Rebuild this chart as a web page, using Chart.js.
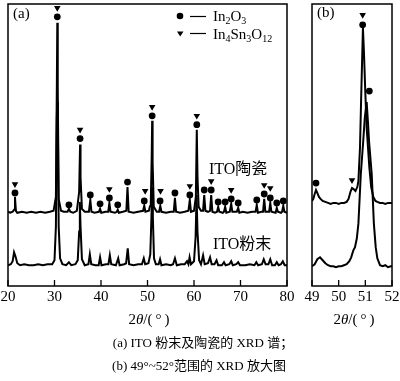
<!DOCTYPE html>
<html><head><meta charset="utf-8">
<script src="https://cdn.jsdelivr.net/npm/chart.js@4/dist/chart.umd.min.js"></script>
<style>
html,body{margin:0;padding:0;background:#fff;}
body{width:400px;height:381px;position:relative;overflow:hidden;font-family:"Liberation Serif","Noto Sans CJK SC",serif;color:#000;}
canvas{position:absolute;top:0;}
#ca{left:0;} #cb{left:300px;}
.t{position:absolute;white-space:nowrap;line-height:1;transform:translateX(-50%);}
</style></head><body>
<canvas id="ca" width="300" height="330"></canvas>
<canvas id="cb" width="100" height="330"></canvas>
<div class="t" style="left:149px;top:312px;font-size:15px;">2<i>θ</i>/(&thinsp;°&thinsp;)</div>
<div class="t" style="left:354px;top:312px;font-size:15px;">2<i>θ</i>/(&thinsp;°&thinsp;)</div>
<div class="t" style="left:203px;top:336px;font-size:13px;">(a) ITO 粉末及陶瓷的 XRD 谱；</div>
<div class="t" style="left:199px;top:359px;font-size:13px;">(b) 49°~52°范围的 XRD 放大图</div>
<script>
// ---- Data (2θ in degrees, intensity in arbitrary units) ----
const ticksA = [20, 30, 40, 50, 60, 70, 80];
const ticksB = [49, 50, 51, 52];

const ceramicA = [[20,75],[20.5,74],[21.0,75],[21.3,77],[21.5,90],[21.7,76],[22.0,74],[23,75],[24,74],[25,75],[26,74],[27,75],[28,74],[29,75],[29.8,76],[30.3,90],[30.5,200],[30.6,266],[30.7,200],[30.9,88],[31.4,76],[32,75],[32.8,75],[33.1,78],[33.4,75],[34,74],[34.8,76],[35.3,95],[35.5,143],[35.6,110],[35.9,78],[36.5,75],[37.4,75],[37.7,87],[37.95,75],[38.6,74],[39.55,75],[39.8,78],[40.05,74],[41,75],[41.55,75],[41.8,84],[42.05,75],[43,74],[43.4,75],[43.6,77],[43.85,74],[44.7,75],[45.45,76],[45.7,100],[45.95,75],[47,74],[48,75],[49.05,76],[49.3,81],[49.55,75],[50.3,76],[50.5,80],[50.7,82],[50.9,130],[51.0,167],[51.1,125],[51.35,80],[52.0,75],[52.5,75],[52.75,81],[53.0,75],[54,74],[55,75],[55.65,75],[55.9,89],[56.15,75],[57,74],[58,75],[58.8,76],[59.1,87],[59.35,75],[60.0,76],[60.4,90],[60.6,158],[60.75,110],[61.0,80],[61.5,76],[61.95,76],[62.2,92],[62.45,76],[63.0,75],[63.45,76],[63.7,92],[63.95,75],[64.5,74],[64.95,75],[65.2,80],[65.45,75],[66.2,74],[66.45,75],[66.7,80],[66.95,74],[67.7,75],[68.0,83],[68.25,75],[69.2,75],[69.5,79],[69.75,74],[70.5,75],[71.5,74],[72.5,75],[73.25,75],[73.5,82],[73.75,74],[74.5,75],[74.85,75],[75.1,88],[75.35,75],[76.15,75],[76.4,84],[76.65,75],[77.55,74],[77.8,79],[78.05,75],[78.7,74],[78.95,75],[79.2,81],[79.45,75],[80,74]];

const powderA = [[20,21],[20.6,22],[21.0,25],[21.3,34],[21.6,30],[22.0,23],[22.6,21],[23.5,22],[24.5,21],[25.5,21],[26.5,22],[27.5,21],[28.5,22],[29.5,22],[30.0,26],[30.3,60],[30.5,170],[30.6,186],[30.75,150],[30.9,60],[31.2,28],[31.7,22],[32.5,21],[33.1,24],[33.6,21],[34.5,22],[35.0,26],[35.3,55],[35.45,85],[35.6,60],[35.9,27],[36.5,21],[37.3,22],[37.6,32],[37.9,22],[38.8,21],[39.5,21],[39.8,29],[40.1,21],[41.1,22],[41.6,22],[41.9,31],[42.2,22],[43.2,21],[43.7,28],[44.0,21],[45.0,22],[45.4,23],[45.75,38],[46.05,22],[47,21],[48,22],[48.8,22],[49.2,28],[49.5,22],[50.2,23],[50.6,32],[50.85,70],[51.0,100],[51.15,70],[51.4,28],[51.8,22],[52.4,22],[52.7,27],[53.0,21],[54,22],[55,21],[55.5,22],[55.9,28],[56.3,21],[57.2,22],[58.0,22],[58.5,25],[58.8,22],[59.05,29],[59.35,22],[60.0,25],[60.35,50],[60.55,92],[60.75,55],[61.1,26],[61.5,22],[61.95,31],[62.3,22],[63.0,23],[63.45,29],[63.8,22],[64.4,22],[64.85,26],[65.2,21],[66.0,21],[66.45,24],[66.8,21],[67.6,22],[68.0,25],[68.35,21],[69.1,22],[69.5,24],[69.9,21],[71,21],[72,22],[73.0,21],[73.4,24],[73.8,21],[74.6,22],[75.0,27],[75.4,22],[76.0,22],[76.4,27],[76.8,21],[77.4,21],[77.8,24],[78.2,21],[78.7,22],[79.1,25],[79.5,21],[80,21]];

const in2o3A = [[21.5,94],[30.6,272],[33.1,82],[35.5,149],[37.7,92],[39.8,83],[41.8,89],[43.6,82],[45.7,105],[49.3,86],[51.0,172],[52.7,86],[55.9,94],[59.1,92],[60.6,163],[62.2,97],[63.7,97],[65.2,85],[66.7,85],[68.0,88],[69.5,84],[73.5,87],[75.1,93],[76.4,89],[77.8,84],[79.2,86]];
const in4sn3o12A = [[21.5,103],[30.6,281],[35.5,158],[41.8,98],[49.5,96],[51.0,181],[52.8,96],[59.1,101],[60.6,172],[63.7,106],[68.0,97],[75.1,102],[76.4,99]];

const ceramicB = [[49.0,86],[49.05,88],[49.1,93],[49.15,97],[49.2,94],[49.26,90],[49.32,88],[49.4,86],[49.5,85],[49.6,84],[49.7,83],[49.8,84],[49.9,84],[50.0,83],[50.1,84],[50.2,84],[50.3,85],[50.37,88],[50.44,95],[50.5,99],[50.56,98],[50.63,96],[50.7,100],[50.74,106],[50.8,140],[50.84,186],[50.91,261],[50.95,235],[51.0,195],[51.05,160],[51.1,140],[51.15,120],[51.22,100],[51.3,90],[51.38,86],[51.45,85],[51.55,84],[51.65,84],[51.75,83],[51.85,84],[51.95,84],[52.0,84]];
const powderB = [[49.0,20],[49.1,22],[49.2,27],[49.3,29],[49.4,26],[49.5,23],[49.6,21],[49.7,20],[49.8,20],[49.9,19],[50.0,20],[50.1,20],[50.2,21],[50.3,22],[50.4,25],[50.47,29],[50.55,36],[50.61,39],[50.68,48],[50.74,63],[50.83,113],[50.92,146],[50.98,170],[51.05,186],[51.1,165],[51.14,146],[51.24,113],[51.32,63],[51.39,39],[51.45,28],[51.55,21],[51.65,20],[51.75,21],[51.85,19],[51.95,20],[52.0,20]];
const in2o3B = [[49.15,104],[50.9,264],[51.15,197]];
const in4sn3o12B = [[50.5,107],[50.9,274]];

// ---- helpers ----
const FONT = '"Liberation Serif", "Noto Sans CJK SC", serif';
const toXY = arr => arr.map(p => ({x: p[0], y: p[1]}));

function lineDs(arr){
  return {data: toXY(arr), showLine: true, borderColor: '#000', borderWidth: 2,
          pointRadius: 0, tension: 0, fill: false};
}
function markDs(arr, style){
  return {data: toXY(arr), showLine: false, pointStyle: style,
          pointRotation: style === 'triangle' ? 180 : 0,
          pointRadius: style === 'triangle' ? 3.8 : 3.4,
          pointBackgroundColor: '#000', pointBorderWidth: 0, pointBorderColor: '#000'};
}

function drawSub(ctx, parts, x, y){
  parts.forEach(([txt, sub]) => {
    ctx.font = (sub ? '10px ' : '15px ') + FONT;
    ctx.fillText(txt, x, sub ? y + 3 : y);
    x += ctx.measureText(txt).width;
  });
}

function framePlugin(extra){
  return {
    id: 'frame' + Math.random().toString().slice(2,6),
    afterDatasetsDraw(chart){
      const {ctx, chartArea: a, scales: {x}} = chart;
      ctx.save();
      ctx.strokeStyle = '#000';
      ctx.lineWidth = 1.5;
      ctx.strokeRect(a.left, a.top, a.right - a.left, a.bottom - a.top);
      ctx.lineWidth = 1.3;
      x.ticks.forEach((t, i) => {
        const px = x.getPixelForTick(i);
        ctx.beginPath(); ctx.moveTo(px, a.bottom); ctx.lineTo(px, a.bottom - 6); ctx.stroke();
      });
      ctx.fillStyle = '#000';
      if (extra) extra(ctx, chart);
      ctx.restore();
    }
  };
}

function makeChart(id, datasets, min, max, ticks, pad, extra){
  return new Chart(document.getElementById(id), {
    type: 'scatter',
    data: {datasets},
    options: {
      responsive: false, animation: false, devicePixelRatio: 1,
      layout: {padding: pad},
      plugins: {legend: {display: false}, tooltip: {enabled: false}},
      scales: {
        x: {type: 'linear', min, max,
            afterBuildTicks: s => { s.ticks = ticks.map(v => ({value: v})); },
            afterFit: s => { s.height = 44; s.paddingLeft = 0; s.paddingRight = 0; },
            grid: {display: false, drawTicks: false},
            border: {display: false},
            ticks: {color: '#000', font: {family: FONT, size: 15}, padding: 2,
                    maxRotation: 0, autoSkip: false}},
        y: {display: false, min: 0, max: 285}
      }
    },
    plugins: [framePlugin(extra)]
  });
}

makeChart('ca',
  [lineDs(ceramicA), lineDs(powderA), markDs(in2o3A, 'circle'), markDs(in4sn3o12A, 'triangle')],
  20, 80, ticksA, {left: 8, right: 13, top: 1, bottom: 0},
  (ctx) => {
    ctx.textBaseline = 'alphabetic';
    ctx.font = '15px ' + FONT;
    ctx.fillText('(a)', 13, 18);
    ctx.font = '16px ' + FONT;
    ctx.fillText('ITO陶瓷', 209, 174);
    ctx.fillText('ITO粉末', 213, 249);
    // legend
    ctx.beginPath(); ctx.arc(180, 16, 3.3, 0, Math.PI * 2); ctx.fill();
    ctx.beginPath(); ctx.moveTo(177, 31.5); ctx.lineTo(183.5, 31.5); ctx.lineTo(180.2, 36.5); ctx.closePath(); ctx.fill();
    ctx.lineWidth = 1.2;
    ctx.beginPath(); ctx.moveTo(190, 16.5); ctx.lineTo(206, 16.5); ctx.stroke();
    ctx.beginPath(); ctx.moveTo(190, 33.5); ctx.lineTo(206, 33.5); ctx.stroke();
    drawSub(ctx, [['In',0],['2',1],['O',0],['3',1]], 213, 21);
    drawSub(ctx, [['In',0],['4',1],['Sn',0],['3',1],['O',0],['12',1]], 213, 39);
  });

makeChart('cb',
  [lineDs(ceramicB), lineDs(powderB), markDs(in2o3B, 'circle'), markDs(in4sn3o12B, 'triangle')],
  49, 52, ticksB, {left: 12, right: 8, top: 1, bottom: 0},
  (ctx) => {
    ctx.textBaseline = 'alphabetic';
    ctx.font = '15px ' + FONT;
    ctx.fillText('(b)', 17, 17);
  });
</script>
</body></html>
